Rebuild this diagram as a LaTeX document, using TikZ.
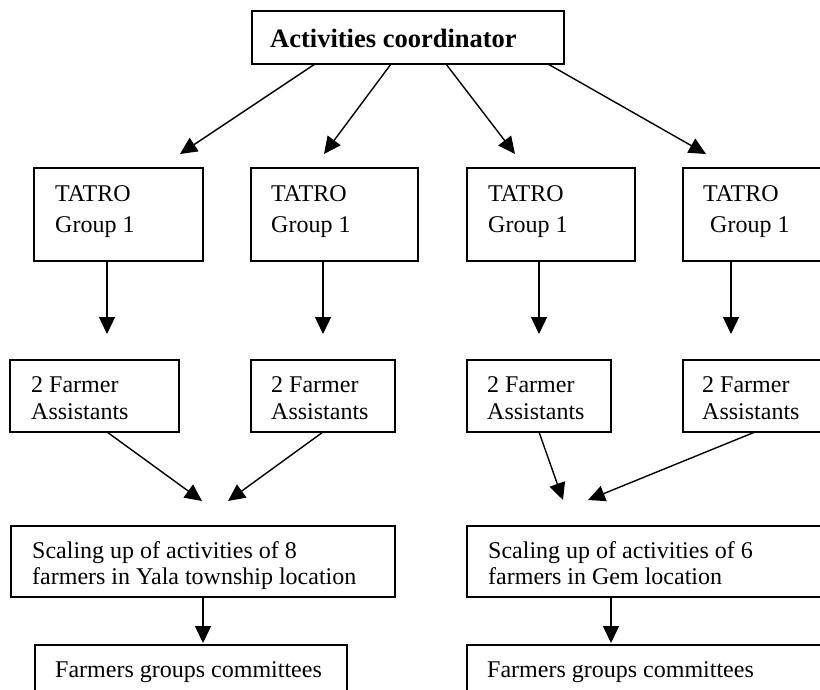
\documentclass[tikz,border=0pt]{standalone}
\usepackage{fontspec}
\setmainfont{Liberation Serif}
\usetikzlibrary{arrows.meta,calc}
\begin{document}
\begin{tikzpicture}[x=1pt,y=-1pt,
  box/.style={draw, line width=1.4pt, rectangle, inner sep=0pt, outer sep=0pt, anchor=north west},
  lbl/.style={anchor=base west, inner sep=0pt, font=\fontsize{24}{27}\selectfont},
  ttl/.style={anchor=base west, inner sep=0pt, font=\fontsize{26.5}{30}\selectfont\bfseries},
  arr/.style={line width=1.4pt, -{Triangle[length=17pt,width=16pt]}}]
\useasboundingbox (0,0) rectangle (820,689);
\fill[white] (0,0) rectangle (820,689);
\clip (0,0) rectangle (820,689);
% top
\node[box, minimum width=312pt, minimum height=53pt] (top) at (252,11) {};
\node[ttl] (toptxt) at (270,47) {Activities coordinator};
% TATRO boxes
\node[box, minimum width=169pt, minimum height=93pt] (t1) at (34,168) {};
\node[box, minimum width=167pt, minimum height=93pt] (t2) at (251,168) {};
\node[box, minimum width=168pt, minimum height=93pt] (t3) at (467,168) {};
\node[box, minimum width=150pt, minimum height=93pt] (t4) at (683,168) {};
\node[lbl] (t1a) at (55,201) {TATRO};
\node[lbl] (t1b) at (55,232) {Group 1};
\node[lbl] (t2a) at (271,201) {TATRO};
\node[lbl] (t2b) at (271,232) {Group 1};
\node[lbl] (t3a) at (488,201) {TATRO};
\node[lbl] (t3b) at (488,232) {Group 1};
\node[lbl] (t4a) at (703,201) {TATRO};
\node[lbl] (t4b) at (710,232) {Group 1};
% arrow tips top
\coordinate (a1) at (180,154);
\coordinate (a2) at (324,154);
\coordinate (a3) at (515,154);
\coordinate (a4) at (706,154);
\draw[arr] ($(top.south west)+(63,0)$) -- (a1);
\draw[arr] ($(top.south west)+(139,0)$) -- (a2);
\draw[arr] ($(top.south west)+(194,0)$) -- (a3);
\draw[arr] ($(top.south west)+(296,0)$) -- (a4);
% farmer boxes
\node[box, minimum width=169pt, minimum height=72pt] (f1) at (10,360) {};
\node[box, minimum width=144pt, minimum height=72pt] (f2) at (251,360) {};
\node[box, minimum width=144pt, minimum height=72pt] (f3) at (467,360) {};
\node[box, minimum width=150pt, minimum height=72pt] (f4) at (683,360) {};
\node[lbl] (f1a) at (31,392) {2 Farmer};
\node[lbl] (f1b) at (31,419) {Assistants};
\node[lbl] (f2a) at (271,392) {2 Farmer};
\node[lbl] (f2b) at (271,419) {Assistants};
\node[lbl] (f3a) at (487,392) {2 Farmer};
\node[lbl] (f3b) at (487,419) {Assistants};
\node[lbl] (f4a) at (702,392) {2 Farmer};
\node[lbl] (f4b) at (702,419) {Assistants};
\coordinate (b1) at (107,334);
\coordinate (b2) at (323,334);
\coordinate (b3) at (539,334);
\coordinate (b4) at (731,334);
\draw[arr] ($(t1.south west)+(73,0)$) -- (b1);
\draw[arr] ($(t2.south west)+(72,0)$) -- (b2);
\draw[arr] ($(t3.south west)+(72,0)$) -- (b3);
\draw[arr] ($(t4.south west)+(48,0)$) -- (b4);
% scaling boxes
\node[box, minimum width=384pt, minimum height=71pt] (s1) at (11,526) {};
\node[box, minimum width=370pt, minimum height=71pt] (s2) at (467,526) {};
\node[lbl] (s1a) at (32,558) {Scaling up of activities of 8};
\node[lbl] (s1b) at (32,584) {farmers in Yala township location};
\node[lbl] (s2a) at (488,558) {Scaling up of activities of 6};
\node[lbl] (s2b) at (488,584) {farmers in Gem location};
\coordinate (c1) at (202,501);
\coordinate (c2) at (228,501);
\coordinate (c3) at (563,500);
\coordinate (c4) at (588,500);
\draw[arr] ($(f1.south west)+(97,0)$) -- (c1);
\draw[arr] ($(f2.south west)+(72,0)$) -- (c2);
\draw[arr] ($(f3.south west)+(72,0)$) -- (c3);
\draw[arr] ($(f4.south west)+(72,0)$) -- (c4);
% farmers groups committees
\node[box, minimum width=312pt, minimum height=70pt] (g1) at (35,645) {};
\node[box, minimum width=370pt, minimum height=70pt] (g2) at (467,645) {};
\node[lbl] (g1a) at (55,677) {Farmers groups committees};
\node[lbl] (g2a) at (487,677) {Farmers groups committees};
\coordinate (d1) at (203,643);
\coordinate (d2) at (611,643);
\draw[arr] ($(s1.south west)+(192,0)$) -- (d1);
\draw[arr] ($(s2.south west)+(144,0)$) -- (d2);
\end{tikzpicture}
\end{document}
